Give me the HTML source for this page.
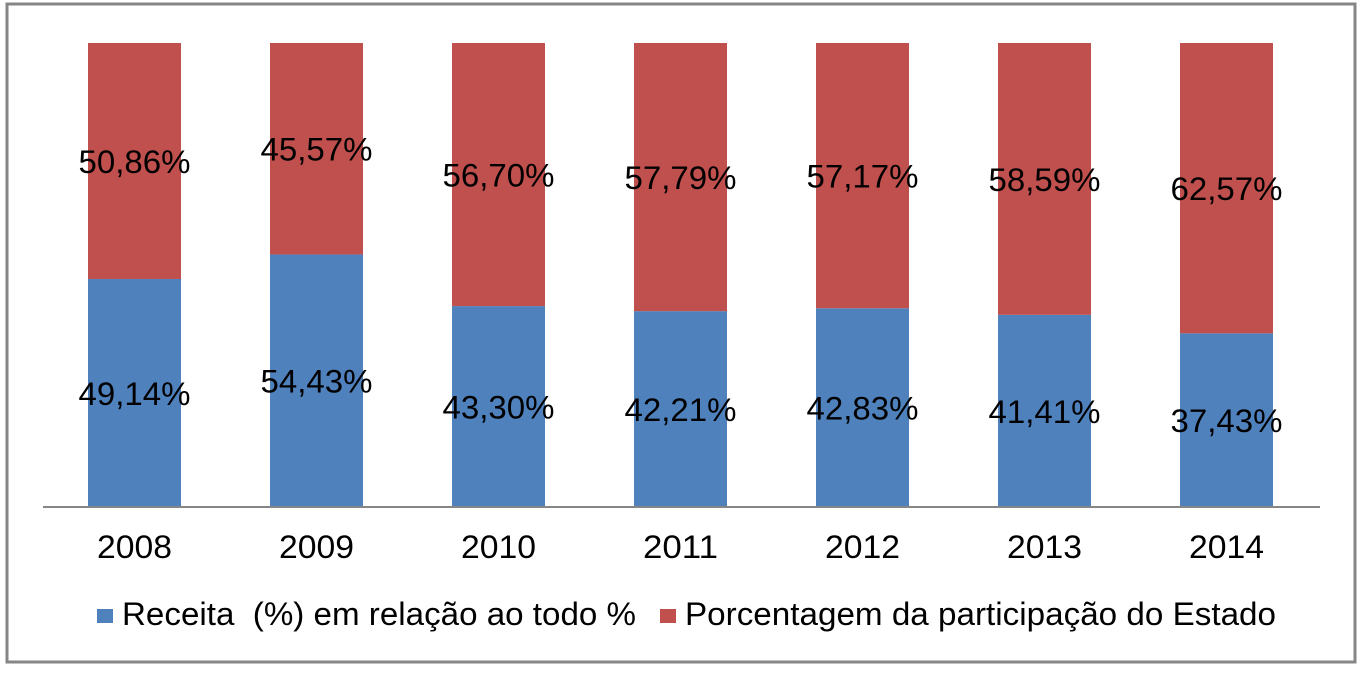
<!DOCTYPE html>
<html><head><meta charset="utf-8"><style>
html,body{margin:0;padding:0;background:#fff;}
svg{display:block;font-family:"Liberation Sans",Arial,sans-serif;}
</style></head><body>
<svg id="chart" width="1362" height="673">
<rect x="7" y="4" width="1348" height="658" fill="#fff" stroke="#868686" stroke-width="3"/>
<g id="bars"></g>
<line x1="43" y1="507" x2="1320" y2="507" stroke="#868686" stroke-width="2"/>
<g id="xlabels"></g>
<g>
<rect x="97" y="609" width="16" height="14" fill="#4f81bd"/>
<text x="122" y="625" font-size="32" textLength="514" lengthAdjust="spacingAndGlyphs" style="white-space:pre">Receita  (%) em relação ao todo %</text>
<rect x="660" y="609" width="16" height="14" fill="#c0504d"/>
<text x="685" y="625" font-size="32" textLength="591" lengthAdjust="spacingAndGlyphs">Porcentagem da participação do Estado</text>
</g>
</svg>
<script>
const categories=["2008","2009","2010","2011","2012","2013","2014"];
const receita=[49.14,54.43,43.30,42.21,42.83,41.41,37.43];
const estado=[50.86,45.57,56.70,57.79,57.17,58.59,62.57];
const NS="http://www.w3.org/2000/svg";
const y0=507,plotH=464,x0=88,step=182,bw=93;
function yS(v){return y0-v/100*plotH;}
function xS(i){return x0+i*step;}
function fmt(v){return v.toFixed(2).replace('.',',')+'%';}
const gb=document.getElementById('bars'),gl=document.getElementById('xlabels');
function mk(tag,attrs,parent){const e=document.createElementNS(NS,tag);for(const k in attrs)e.setAttribute(k,attrs[k]);parent.appendChild(e);return e;}
categories.forEach((c,i)=>{
  const x=xS(i);
  const yb=yS(receita[i]);
  const b=mk('rect',{x:x,y:yb,width:bw,height:y0-yb,fill:'#4f81bd'},gb);
  
  
  const yr=yS(receita[i]+estado[i]);
  const r=mk('rect',{x:x,y:yr,width:bw,height:yb-yr,fill:'#c0504d'},gb);
  
  
  const t1=mk('text',{x:x+bw/2,y:(yb+y0)/2+12,'font-size':32,'text-anchor':'middle',textLength:112,lengthAdjust:'spacingAndGlyphs'},gb);
  t1.textContent=fmt(receita[i]);
  
  
  const t2=mk('text',{x:x+bw/2,y:(yr+yb)/2+12,'font-size':32,'text-anchor':'middle',textLength:112,lengthAdjust:'spacingAndGlyphs'},gb);
  t2.textContent=fmt(estado[i]);
  
  
  const xl=mk('text',{x:x+bw/2,y:558,'font-size':32,'text-anchor':'middle',textLength:75,lengthAdjust:'spacingAndGlyphs'},gl);
  xl.textContent=c;
  
  
});
</script>
</body></html>
